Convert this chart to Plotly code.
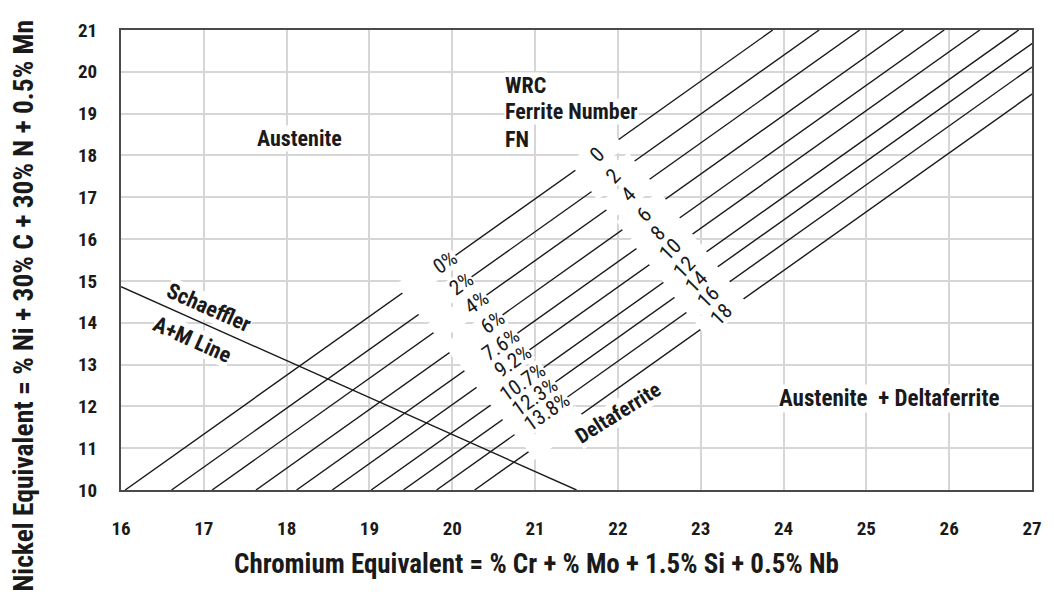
import plotly.graph_objects as go

# Axis ranges / ticks
cr_ticks = list(range(16, 28))
ni_ticks = list(range(10, 22))

# Iso-ferrite lines: Cr-equivalent at which each line crosses Ni-eq = 10 and Ni-eq = 21
iso_cr_at_ni10 = [16.05, 16.61, 17.10, 17.63, 18.12, 18.55, 19.02, 19.41, 19.81, 20.27]
iso_cr_at_ni21 = [23.87, 24.43, 24.92, 25.45, 25.94, 26.37, 26.84, 27.23, 27.63, 28.09]
ferrite_percent = ["0%", "2%", "4%", "6%", "7.6%", "9.2%", "10.7%", "12.3%", "13.8%", ""]
ferrite_number = ["0", "2", "4", "6", "8", "10", "12", "14", "16", "18"]

# Schaeffler A+M line
schaeffler_cr = [16.0, 21.5]
schaeffler_ni = [14.86, 10.0]

# Label bands (straight strips across the line family), end points in data units
pct_band = ((19.71, 15.17), (21.23, 11.38))
fn_band = ((21.75, 18.00), (23.26, 14.19))

FONT = "Roboto Condensed, Roboto, sans-serif"
INK = "#1a1a1a"
LINE_ANGLE = -35


def crossing(i, band):
    """Point where iso line i meets the straight band centre line."""
    (bx0, by0), (bx1, by1) = band
    x0, y0, x1, y1 = iso_cr_at_ni10[i], 10.0, iso_cr_at_ni21[i], 21.0
    dx1, dy1 = x1 - x0, y1 - y0
    dx2, dy2 = bx1 - bx0, by1 - by0
    den = dx1 * dy2 - dy1 * dx2
    t = ((bx0 - x0) * dy2 - (by0 - y0) * dx2) / den
    return x0 + t * dx1, y0 + t * dy1


fig = go.Figure()

xs, ys = [], []
for a, b in zip(iso_cr_at_ni10, iso_cr_at_ni21):
    xs += [a, b, None]
    ys += [10.0, 21.0, None]
fig.add_trace(go.Scatter(x=xs, y=ys, mode="lines", line=dict(color=INK, width=1.4),
                         hoverinfo="skip", showlegend=False))
fig.add_trace(go.Scatter(x=schaeffler_cr, y=schaeffler_ni, mode="lines",
                         line=dict(color=INK, width=1.4), hoverinfo="skip", showlegend=False))

ann = []
# Ferrite percentage labels, each sitting in a white gap of its line
for i, txt in enumerate(ferrite_percent):
    x, y = crossing(i, pct_band)
    ann.append(dict(x=x, y=y, xref="x", yref="y", text=txt if txt else " ",
                    showarrow=False, textangle=LINE_ANGLE, width=64, height=20,
                    align="right", bgcolor="white", borderpad=0,
                    font=dict(family=FONT, size=21, color=INK)))

labels = [
    dict(x=18.15, y=18.4, text="Austenite", size=22),
    dict(x=20.63, y=19.68, text="WRC", xanchor="left", size=22),
    dict(x=20.63, y=19.04, text="Ferrite Number", xanchor="left", size=22),
    dict(x=20.63, y=18.39, text="FN", xanchor="left", size=22),
    dict(x=17.06, y=14.36, text="Schaeffler", textangle=24, size=22),
    dict(x=16.86, y=13.6, text="A+M Line", textangle=24, size=22),
    dict(x=22.0, y=11.85, text="Deltaferrite", textangle=-32, size=21),
    dict(x=25.27, y=12.2, text="Austenite  + Deltaferrite", size=23),
]
for a in labels:
    size = a.pop("size")
    a.update(xref="x", yref="y", showarrow=False, bgcolor="white", borderpad=0,
             font=dict(family=FONT, size=size, color=INK, weight="bold"))
ann += labels

# Ferrite number gaps and labels
for i, txt in enumerate(ferrite_number):
    x, y = crossing(i, fn_band)
    ann.append(dict(x=x, y=y, xref="x", yref="y", text=" ", showarrow=False,
                    textangle=LINE_ANGLE, width=52, height=20, bgcolor="white",
                    borderpad=0, font=dict(family=FONT, size=17, color=INK)))
for i, txt in enumerate(ferrite_number):
    x, y = crossing(i, fn_band)
    ann.append(dict(x=x, y=y, xref="x", yref="y", text=txt, showarrow=False,
                    textangle=-45, font=dict(family=FONT, size=21, color=INK)))

# Axis titles
title_font = dict(family=FONT, size=27, color=INK, weight="bold")
ann += [
    dict(x=0.456, y=-0.16, xref="paper", yref="paper", xanchor="center", yanchor="middle",
         text="Chromium Equivalent = % Cr + % Mo + 1.5% Si + 0.5% Nb",
         showarrow=False, font=title_font),
    dict(x=-0.108, y=0.40, xref="paper", yref="paper", xanchor="center", yanchor="middle",
         text="Nickel Equivalent = % Ni + 30% C + 30% N + 0.5% Mn", textangle=-90,
         showarrow=False, font=dict(family=FONT, size=27.5, color=INK, weight="bold")),
]

axis_common = dict(showgrid=True, gridcolor="#d6d6d6", gridwidth=1.5, showline=True,
                   linecolor="#4a4a4a", linewidth=2, mirror=True, zeroline=False,
                   ticks="", tickfont=dict(family=FONT, size=19, color=INK, weight="bold"),
                   fixedrange=True)

fig.update_layout(
    width=1054, height=604,
    margin=dict(l=121, r=14, t=30, b=114),
    paper_bgcolor="white", plot_bgcolor="white",
    annotations=ann,
    xaxis=dict(range=[16, 27], tickvals=cr_ticks, ticklabelstandoff=20, **axis_common),
    yaxis=dict(range=[10, 21], tickvals=ni_ticks, ticklabelstandoff=18, **axis_common),
)

fig.write_html("out.html")
